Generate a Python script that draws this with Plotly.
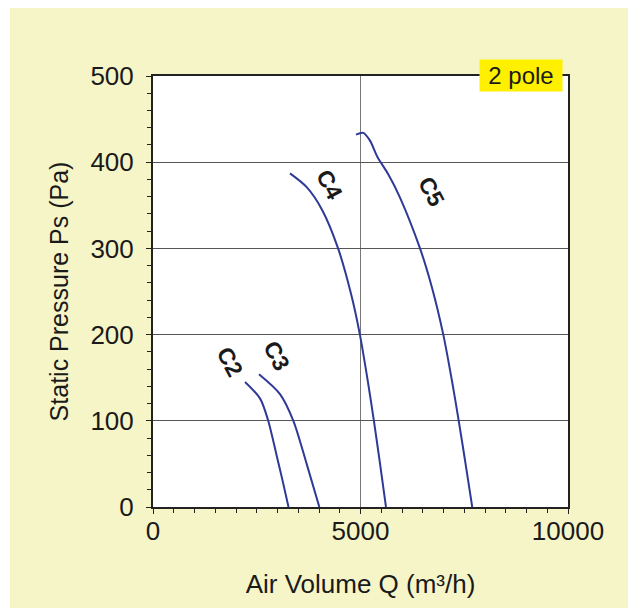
import plotly.graph_objects as go

# Data
C2_q = [2217, 2578, 2771, 2988, 3125, 3265]
C2_p = [145, 126, 101, 58, 30, 0]
C3_q = [2554, 3060, 3382, 3703, 4008]
C3_p = [154, 131, 100, 50, 0]
C4_q = [3301, 3704, 4082, 4460, 4773, 4985, 5173, 5323, 5471, 5614]
C4_p = [387, 371, 344, 300, 247, 200, 147, 100, 50, 0]
C5_q = [4892, 5068, 5229, 5409, 5669, 5952, 6434, 6720, 6995, 7202, 7367, 7558, 7692]
C5_p = [432, 434, 425, 406, 386, 359, 300, 255, 200, 147, 100, 42, 0]

curve_names = ["C2", "C3", "C4", "C5"]
label_q = [1855, 2964, 4265, 6723]
label_p = [168, 176, 374, 366]

x_ticks = [0, 5000, 10000]
x_ticktext = ["0", "5000", "10000"]
y_ticks = [0, 100, 200, 300, 400, 500]

LINE_COLOR = "#2e3a97"
BG = "#f6f5c8"
FONT = "Liberation Sans, Arial, sans-serif"

fig = go.Figure()
for q, p, n in zip([C2_q, C3_q, C4_q, C5_q], [C2_p, C3_p, C4_p, C5_p], curve_names):
    fig.add_trace(go.Scatter(x=q, y=p, mode="lines", name=n,
                             line=dict(color=LINE_COLOR, width=2, shape="spline", smoothing=0.8),
                             showlegend=False, hoverinfo="skip"))

for n, q, p in zip(curve_names, label_q, label_p):
    fig.add_annotation(x=q, y=p, text="<b>%s</b>" % n, showarrow=False, textangle=62,
                       font=dict(family=FONT, size=23, color="#1a1a1a"))

fig.add_annotation(xref="paper", yref="paper", x=0.887, y=1.002, xanchor="center", yanchor="middle",
                   text="2 pole", showarrow=False, bgcolor="#fff000", width=80, height=29,
                   font=dict(family=FONT, size=24, color="#1a1a1a"))

# white strips at edges of the picture
fig.add_shape(type="rect", xref="paper", yref="paper", x0=-0.5, x1=-0.3446, y0=-0.5, y1=1.5,
              fillcolor="white", line_width=0, layer="below")
fig.add_shape(type="rect", xref="paper", yref="paper", x0=1.1446, x1=1.5, y0=-0.5, y1=1.5,
              fillcolor="white", line_width=0, layer="below")

fig.update_layout(
    width=636, height=608,
    margin=dict(l=145, r=76, t=68, b=109),
    paper_bgcolor=BG, plot_bgcolor="white",
    font=dict(family=FONT, color="#1a1a1a"),
    xaxis=dict(range=[0, 10000], tickvals=x_ticks, ticktext=x_ticktext, ticks="outside",
               ticklen=5, tickwidth=1, tickcolor="#222", showline=True, linewidth=2,
               linecolor="#222", mirror=True, showgrid=True, gridcolor="#777", gridwidth=1,
               zeroline=False, tickfont=dict(size=26), ticklabelstandoff=-5,
               minor=dict(dtick=500, ticks="outside", ticklen=4, tickcolor="#222", showgrid=False),
               title=dict(text="Air Volume Q (m³/h)", font=dict(size=26), standoff=30)),
    yaxis=dict(range=[0, 500], tickvals=y_ticks, ticks="outside", ticklen=5, tickwidth=1,
               tickcolor="#222", showline=True, linewidth=2, linecolor="#222", mirror=True,
               showgrid=True, gridcolor="#555", gridwidth=1, zeroline=False,
               tickfont=dict(size=26), ticklabelstandoff=7,
               minor=dict(dtick=20, ticks="outside", ticklen=4, tickcolor="#222", showgrid=False),
               title=dict(text="Static Pressure Ps (Pa)", font=dict(size=25), standoff=15)),
)

fig.write_html("out.html")
